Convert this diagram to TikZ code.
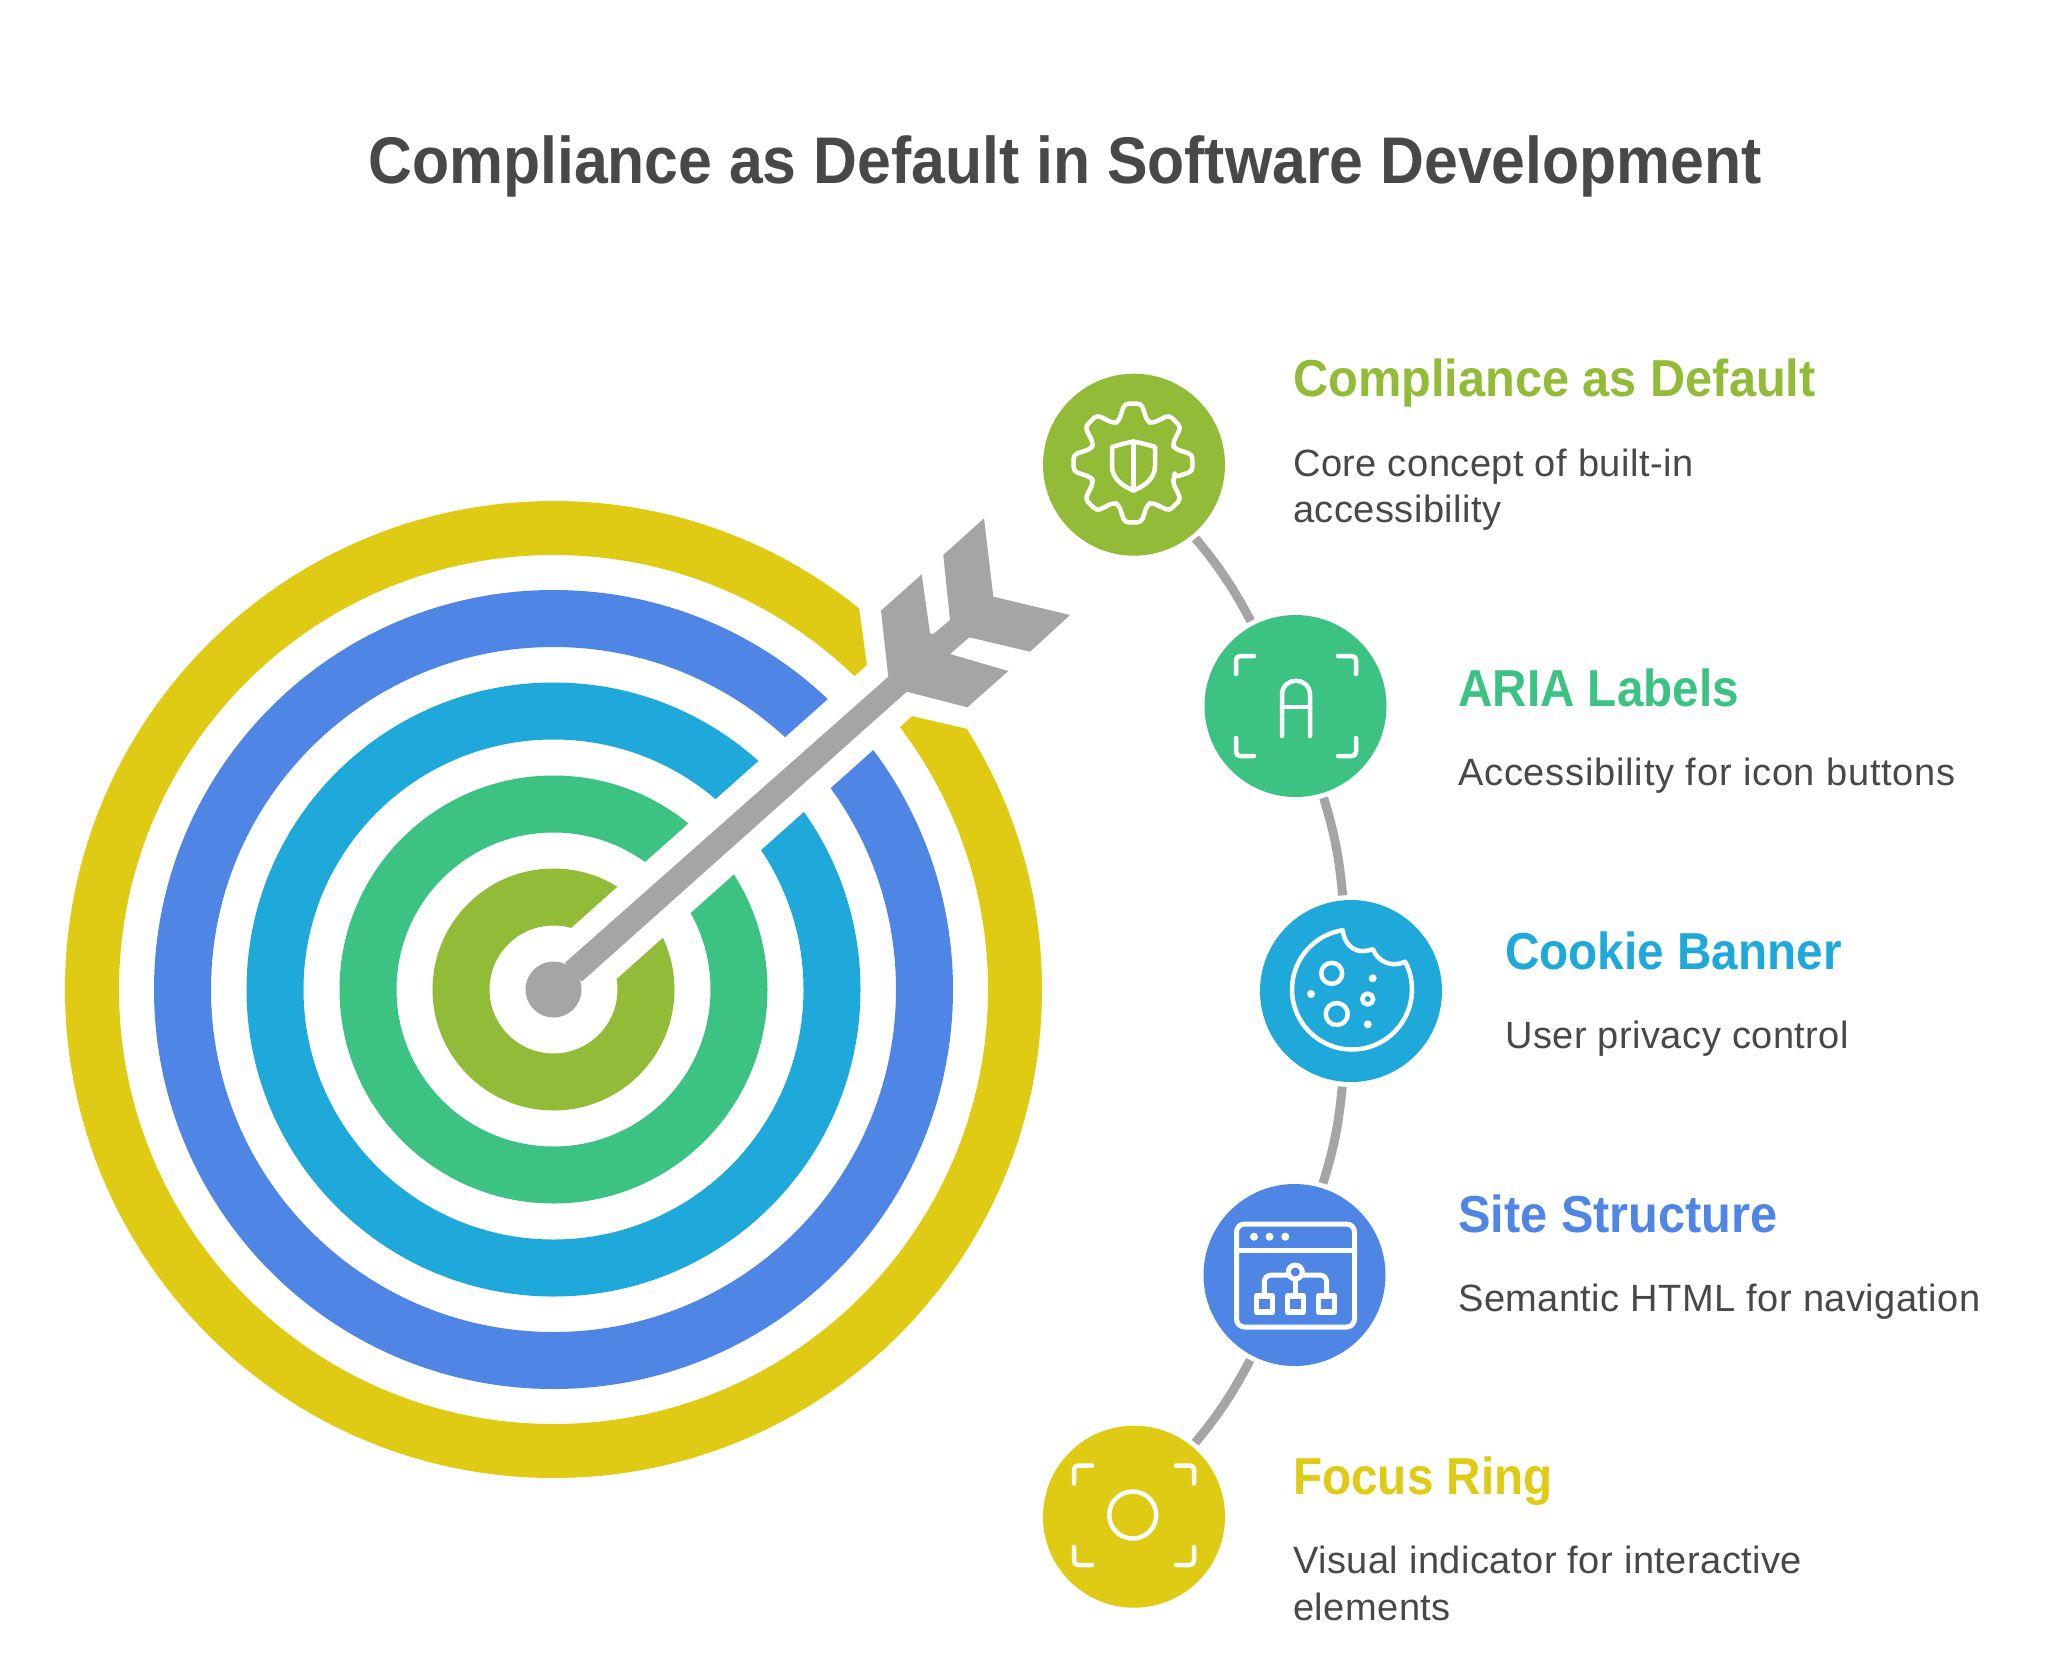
\documentclass[tikz,border=0pt]{standalone}
\usepackage{fontspec}
\setmainfont{Liberation Sans}
\newfontfamily\titlefam[FakeStretch=0.92]{Liberation Sans}
\newfontfamily\headfam[FakeStretch=0.937]{Liberation Sans}
\newfontfamily\headnarrow[FakeStretch=0.917]{Liberation Sans}
\newfontfamily\bodyfam[LetterSpace=1.25]{Liberation Sans}
\newfontfamily\bodywide[LetterSpace=2.05]{Liberation Sans}
\definecolor{cgreen}{HTML}{92BB38}
\definecolor{cemer}{HTML}{3CC384}
\definecolor{ccyan}{HTML}{1FA8DA}
\definecolor{cblue}{HTML}{4F85E5}
\definecolor{cyell}{HTML}{DFCA14}
\definecolor{cgray}{HTML}{A5A4A7}
\definecolor{ctext}{HTML}{484848}
\tikzset{
  ringband/.style={line width=57pt},
  hub/.style={circle,minimum size=182pt,inner sep=0pt,outer sep=0pt},
  link/.style={draw=cgray,line width=9pt,shorten <=5pt,shorten >=5pt},
  icon/.style={draw=white,line width=4.5pt,line cap=round,line join=round},
  thickicon/.style={icon,line width=5pt},
  titletext/.style={anchor=base,text=ctext,font=\titlefam\fontsize{66}{66}\selectfont\bfseries,inner sep=0pt},
  headtext/.style={anchor=base west,font=\headfam\fontsize{52}{52}\selectfont\bfseries,inner sep=0pt},
  headtextn/.style={anchor=base west,font=\headnarrow\fontsize{52}{52}\selectfont\bfseries,inner sep=0pt},
  bodytext/.style={anchor=base west,text=ctext,font=\bodyfam\fontsize{38}{38}\selectfont,inner sep=0pt},
  bodytextw/.style={anchor=base west,text=ctext,font=\bodywide\fontsize{38}{38}\selectfont,inner sep=0pt},
}
\newcommand{\brackets}[4]{%
  \draw[icon,rounded corners=4pt] (#1+18,#3) -- (#1,#3) -- (#1,#3+18);
  \draw[icon,rounded corners=4pt] (#2-18,#3) -- (#2,#3) -- (#2,#3+18);
  \draw[icon,rounded corners=4pt] (#1+18,#4) -- (#1,#4) -- (#1,#4-18);
  \draw[icon,rounded corners=4pt] (#2-18,#4) -- (#2,#4) -- (#2,#4-18);
}
\begin{document}
\begin{tikzpicture}[x=1pt,y=-1pt]
\useasboundingbox (0,0) rectangle (2048,1673);
\fill[white] (0,0) rectangle (2048,1673);
\coordinate (tc) at (553.5,989.5);
% target rings
\draw[cyell,line width=54pt] (tc) circle[radius=461.5pt];
\draw[ringband,cblue] (tc) circle[radius=371pt];
\draw[ringband,ccyan] (tc) circle[radius=278.5pt];
\draw[ringband,cemer] (tc) circle[radius=185.5pt];
\draw[ringband,cgreen] (tc) circle[radius=92.5pt];
% white band along the arrow
\fill[white] (530.8,964.1) -- (838.2,690) -- (883.2,741) -- (576.2,1014.9) -- cycle;
\fill[white] (880,580) -- (859,607) -- (867,665) -- (856,675) -- (845,685) -- (890,736) -- (901,726) -- (912,716) -- (968,729) -- (1000,715) -- cycle;
% arrow
\fill[cgray] (tc) circle[radius=28pt];
\fill[cgray] (565,962.7) -- (888.3,676.7) -- (881,610.7) -- (921.7,574.3) -- (930,633.3) -- (933.3,634) -- (950,620) -- (943.3,555) -- (984,518.3) -- (993.3,596.7) -- (1070,615) -- (1030,651.7) -- (969.3,637.3) -- (950,654) -- (1008.3,671) -- (967.3,707.3) -- (906.7,691.7) -- (581.7,981.7) -- cycle;
% hubs
\node[hub,fill=cgreen] (h1) at (1134,464.7) {};
\node[hub,fill=cemer] (h2) at (1295.5,706) {};
\node[hub,fill=ccyan] (h3) at (1351,991) {};
\node[hub,fill=cblue] (h4) at (1294.5,1275) {};
\node[hub,fill=cyell] (h5) at (1134,1516.7) {};
\draw[link] (h1) to[bend left=6] (h2);
\draw[link] (h2) to[bend left=6] (h3);
\draw[link] (h3) to[bend left=6] (h4);
\draw[link] (h4) to[bend left=6] (h5);
% gear icon
\begin{scope}[shift={(1133,463)},y=1pt]
\draw[icon,rounded corners=4pt] (-19:44pt)
  \foreach \a in {0,45,...,315} { -- (\a-19:44pt) -- (\a-8:60pt) -- (\a+8:60pt) -- (\a+19:44pt) } -- cycle;
\end{scope}
\draw[icon] (1133.5,441.5) .. controls (1126,443) and (1118,445) .. (1112,447) -- (1112,466) .. controls (1112,478) and (1122,486) .. (1133.5,490.5) .. controls (1145,486) and (1155,478) .. (1155,466) -- (1155,447) .. controls (1149,445) and (1141,443) .. (1133.5,441.5) -- cycle;
\draw[icon] (1133.5,441.5) -- (1133.5,490.5);
% aria icon
\brackets{1236}{1356}{656}{756}
\draw[icon] (1282,736) -- (1282,695) .. controls (1282,676) and (1310,676) .. (1310,695) -- (1310,736);
\draw[icon] (1282,707) -- (1310,707);
% cookie icon
\begin{scope}[shift={(1352,989.5)},y=1pt]
\draw[icon] (27.7:60pt) arc[start angle=27.7,end angle=-261.1,radius=60pt]
  .. controls (-7,41.5) and (6,34.5) .. (20.7,40.5)
  .. controls (26,27.5) and (40,21.5) .. (53,27.8);
\end{scope}
\draw[icon] (1331.7,973.3) circle[radius=10.5pt];
\draw[icon] (1336.7,1014) circle[radius=11pt];
\draw[icon] (1367.7,999) circle[radius=5.5pt];
\fill[white] (1372.7,978.3) circle[radius=4pt];
\fill[white] (1311,994) circle[radius=4pt];
\fill[white] (1367.7,1024.3) circle[radius=4pt];
% window icon
\draw[thickicon,rounded corners=8pt] (1236.5,1224) rectangle (1354.5,1327);
\draw[thickicon] (1236.5,1250) -- (1354.5,1250);
\foreach \x in {1254,1269.5,1285.3} \fill[white] (\x,1236.7) circle[radius=4pt];
\draw[thickicon] (1295.3,1272) circle[radius=7pt];
\draw[thickicon] (1295.3,1279) -- (1295.3,1296);
\draw[thickicon,rounded corners=7pt] (1288,1275) -- (1264.3,1275) -- (1264.3,1296);
\draw[thickicon,rounded corners=7pt] (1302.5,1275) -- (1326.7,1275) -- (1326.7,1296);
\foreach \x in {1264.3,1295.7,1326.7} \draw[icon,line width=5.5pt] (\x-8,1296) rectangle (\x+8,1312);
% focus icon
\brackets{1074}{1194}{1465.5}{1565}
\draw[icon] (1132.7,1515) circle[radius=23.5pt];
% texts
\node[titletext] (title) at (1065,183) {Compliance as Default in Software Development};
\node[headtext,text=cgreen] (t1) at (1293,396) {Compliance as Default};
\node[bodytext] (b1a) at (1293,476) {Core concept of built-in};
\node[bodytext] (b1b) at (1293,522) {accessibility};
\node[headtextn,text=cemer] (t2) at (1458,706) {ARIA Labels};
\node[bodytextw] (b2) at (1458,785) {Accessibility for icon buttons};
\node[headtextn,text=ccyan] (t3) at (1505,969) {Cookie Banner};
\node[bodytext] (b3) at (1505,1048) {User privacy control};
\node[headtext,text=cblue] (t4) at (1458,1232) {Site Structure};
\node[bodytext] (b4) at (1458,1311) {Semantic HTML for navigation};
\node[headtextn,text=cyell] (t5) at (1293,1494) {Focus Ring};
\node[bodytext] (b5a) at (1293,1573) {Visual indicator for interactive};
\node[bodytext] (b5b) at (1293,1620) {elements};
\end{tikzpicture}
\end{document}
